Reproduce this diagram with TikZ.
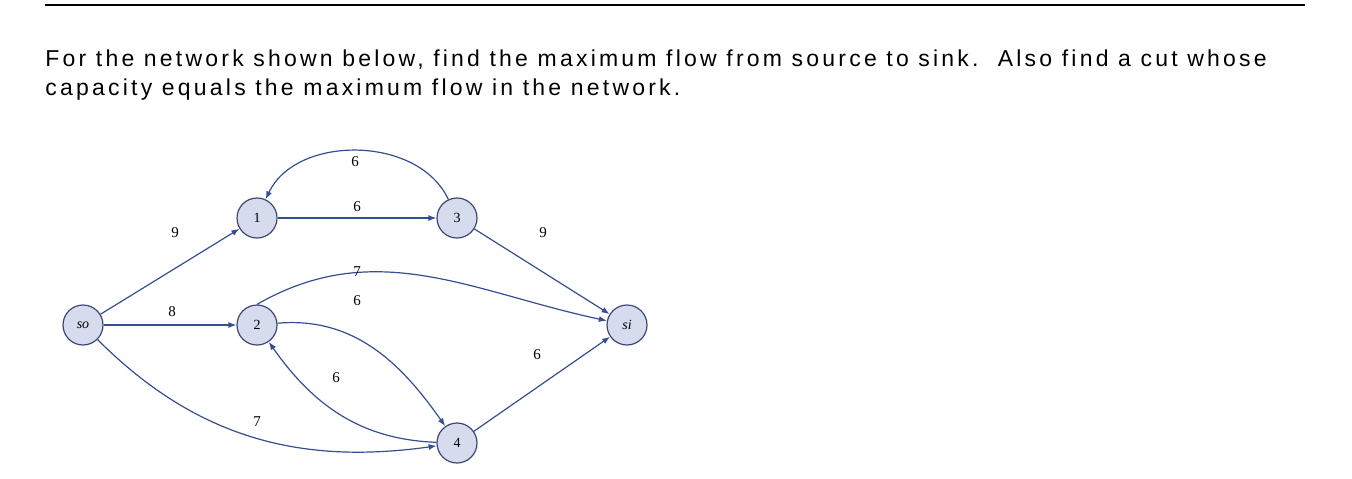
\documentclass[tikz,border=0pt]{standalone}
\usepackage{fontspec}
\setmainfont{Liberation Serif}
\newfontfamily\qf[LetterSpace=14]{Liberation Sans}
\usetikzlibrary{arrows.meta}
\definecolor{nfill}{RGB}{214,219,238}
\definecolor{nline}{RGB}{60,72,115}
\definecolor{eline}{RGB}{52,78,145}
\begin{document}
\begin{tikzpicture}[x=0.5pt,y=-0.5pt,
  vtx/.style={circle,draw=nline,fill=nfill,line width=0.6pt,minimum size=20pt,inner sep=0pt,font=\fontsize{7}{8}\selectfont},
  edg/.style={draw=eline,line width=0.6pt,-{Latex[length=4pt,width=3pt]}},
  lbl/.style={font=\fontsize{7.5}{8}\selectfont,inner sep=1pt}]
\useasboundingbox (0,0) rectangle (1352,478);
\draw[line width=0.6pt] (45,5) -- (1305,5);
\node[anchor=west,inner sep=0pt,font=\qf\fontsize{11.5}{14}\selectfont] (q1) at (45,60) {For the network shown below, find the maximum flow from source to sink.\ \ Also find a cut whose};
\node[anchor=west,inner sep=0pt,font=\qf\fontsize{11.5}{14}\selectfont] (q2) at (45,90) {capacity equals the maximum flow in the network.};
\node[vtx] (so) at (83,325) {\itshape so};
\node[vtx] (n1) at (257,218) {1};
\node[vtx] (n3) at (457,218) {3};
\node[vtx] (n2) at (257,325) {2};
\node[vtx] (n4) at (457,443) {4};
\node[vtx] (si) at (627,325) {\itshape si};
\draw[edg] (n3) to[out=115,in=65] (n1);
\draw[edg] (n1) -- (n3);
\draw[edg] (so) -- (n1);
\draw[edg] (so) -- (n2);
\draw[edg] (n3) -- (si);
\draw[edg] (n4) -- (si);
\draw[edg] (n2.north) to[out=30,in=168] (si);
\draw[edg] (n2) to[out=5,in=125] (n4);
\draw[edg] (n4) to[out=178,in=-55] (n2);
\draw[edg] (so) to[out=-45,in=188] (n4);
\node[lbl] (l1) at (355,162) {6};
\node[lbl] (l2) at (357,207) {6};
\node[lbl] (l3) at (175,233) {9};
\node[lbl] (l4) at (172,312) {8};
\node[lbl] (l5) at (357,272) {7};
\node[lbl] (l6) at (543,233) {9};
\node[lbl] (l7) at (357,301) {6};
\node[lbl] (l8) at (336,378) {6};
\node[lbl] (l9) at (537,355) {6};
\node[lbl] (l10) at (257,422) {7};
\end{tikzpicture}
\end{document}
